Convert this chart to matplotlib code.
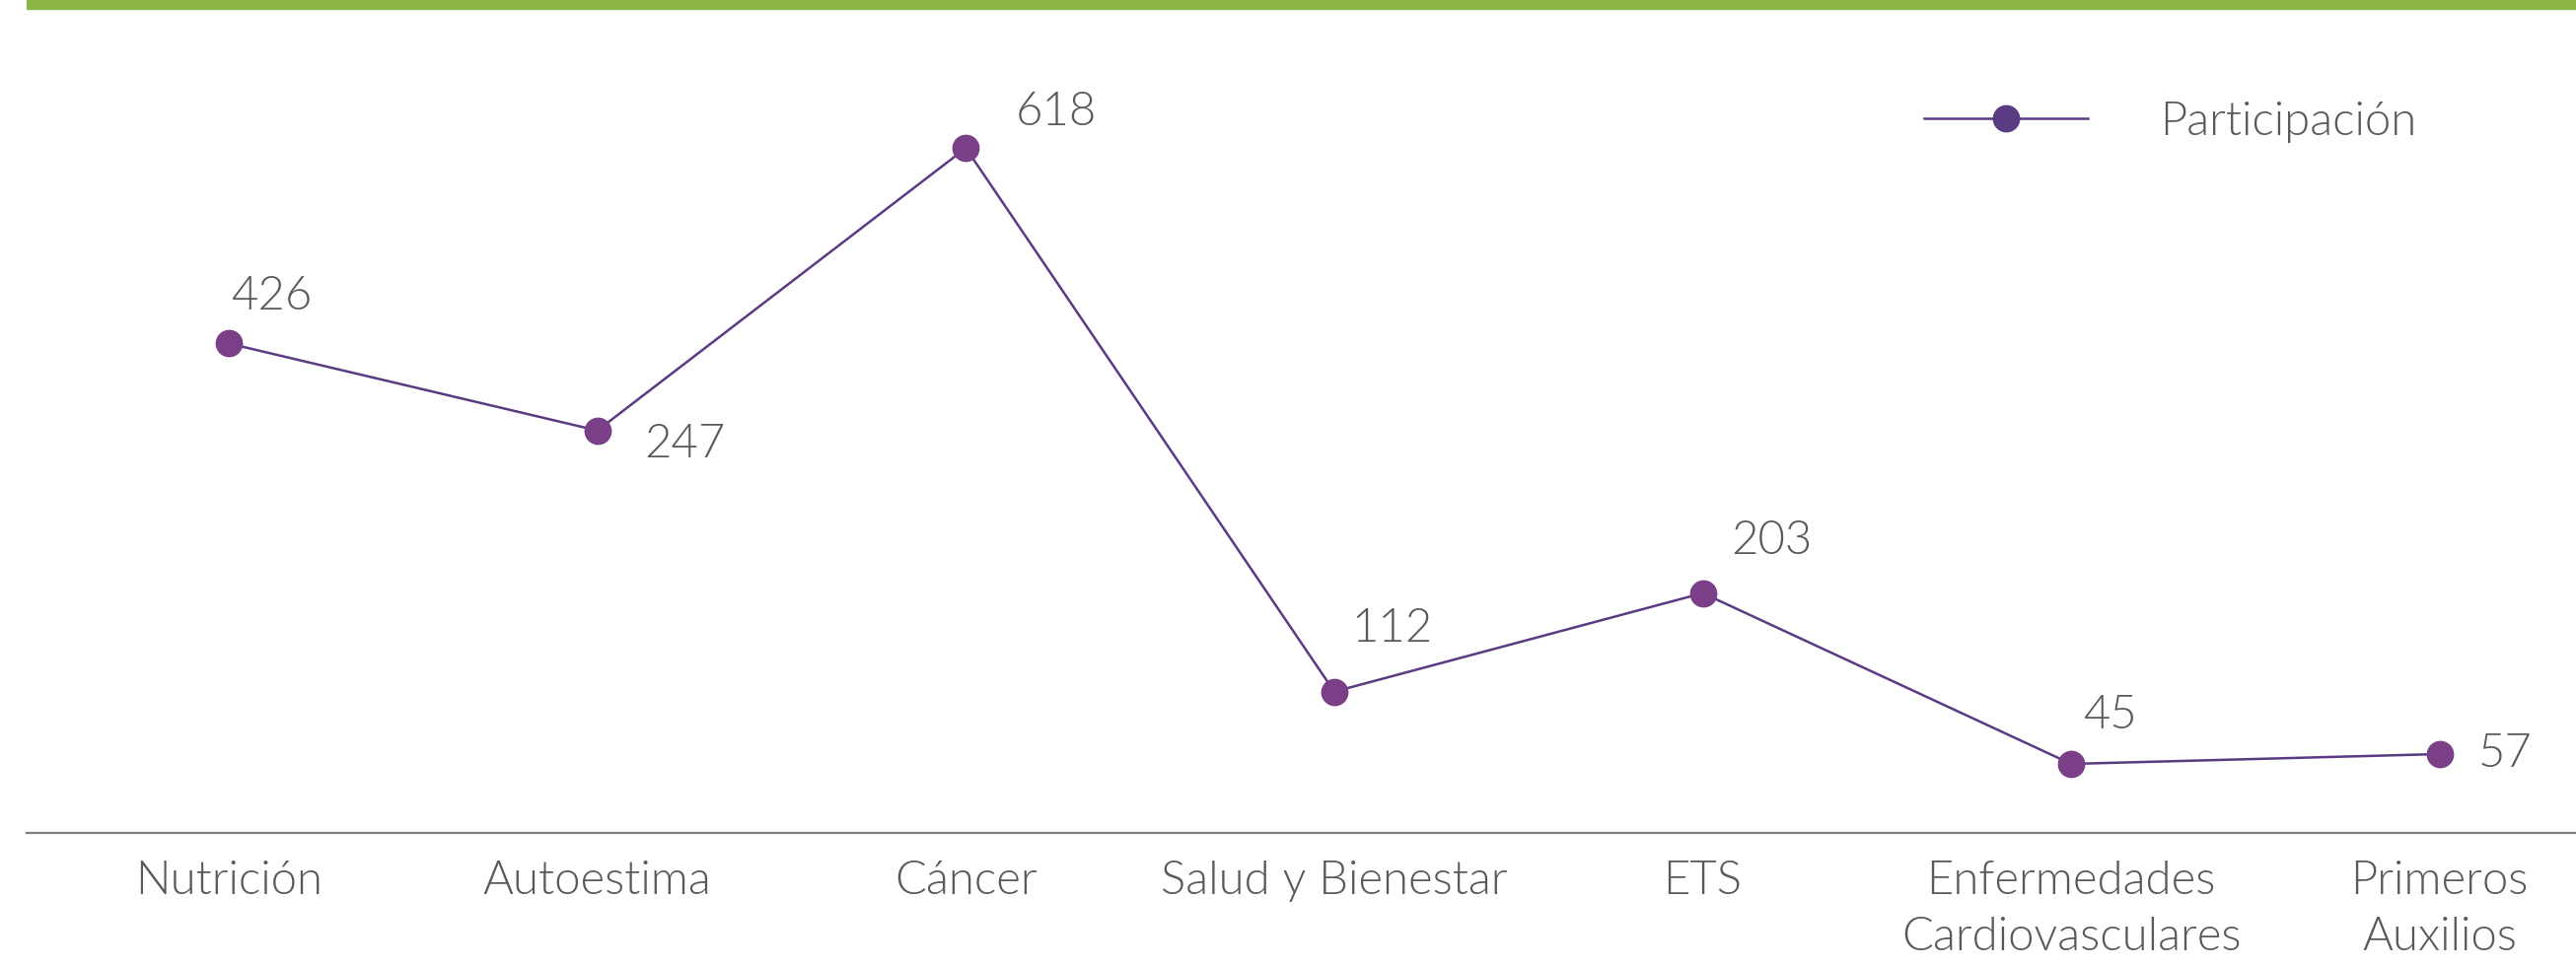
import matplotlib
matplotlib.use('Agg')
import matplotlib.pyplot as plt
from matplotlib.lines import Line2D

plt.rcParams['font.family'] = ['Lato', 'DejaVu Sans']

# categories and values shown on the chart
categories = ['Nutrición', 'Autoestima', 'Cáncer', 'Salud y Bienestar', 'ETS',
              'Enfermedades\nCardiovasculares', 'Primeros\nAuxilios']
values = [426, 247, 618, 112, 203, 45, 57]
# marker heights as drawn in the picture (the picture is not to scale)
heights = [298, 245, 417, 86, 146, 42, 48]
series_name = 'Participación'

# label offsets (points) from each marker
label_offsets = [(31, 34), (64, -10), (66, 26), (42, 46), (50, 38), (28, 35), (48, 0)]

line_col = '#5b3a84'
marker_col = '#7b3f88'
text_col = '#595959'
fs = 34
fw = 300

fig = plt.figure(figsize=(26.12, 9.8), dpi=100)
ax = fig.add_axes([0.0102, 0.1378, 0.9898, 0.850])

x = list(range(len(categories)))
ax.plot(x, heights, color=line_col, lw=1.8, marker='o', markersize=19,
        markerfacecolor=marker_col, markeredgecolor=marker_col, zorder=3)

for i, v in enumerate(values):
    ax.annotate(str(v), (x[i], heights[i]), xytext=label_offsets[i],
                textcoords='offset points', ha='center', va='center',
                fontsize=fs, color=text_col, fontweight=fw)

ax.set_xlim(-0.55, 6.37)
ax.set_ylim(0, 500)
ax.set_xticks(x)
ax.set_xticklabels(categories, fontsize=fs, color=text_col, fontweight=fw,
                   linespacing=1.45)
ax.tick_params(axis='x', length=0, pad=20)
ax.set_yticks([])
for s in ['top', 'right', 'left']:
    ax.spines[s].set_visible(False)
ax.spines['bottom'].set_color('#7f7f7f')
ax.spines['bottom'].set_linewidth(1.6)

handle = Line2D([], [], color=line_col, lw=1.8, marker='o', markersize=19,
                markerfacecolor=line_col, markeredgecolor=line_col)
leg = ax.legend([handle], [series_name], loc='center left',
                bbox_to_anchor=(0.728, 0.866), frameon=False, fontsize=fs,
                handlelength=3.5, handletextpad=1.55)
for t in leg.get_texts():
    t.set_color(text_col)
    t.set_fontweight(fw)

# green bar across the top
fig.add_artist(Line2D([0.0102, 1.0], [0.9945, 0.9945], color='#8bb545', lw=7.5,
                      transform=fig.transFigure, solid_capstyle='butt'))

fig.savefig('out.png', dpi=100, facecolor='white')
